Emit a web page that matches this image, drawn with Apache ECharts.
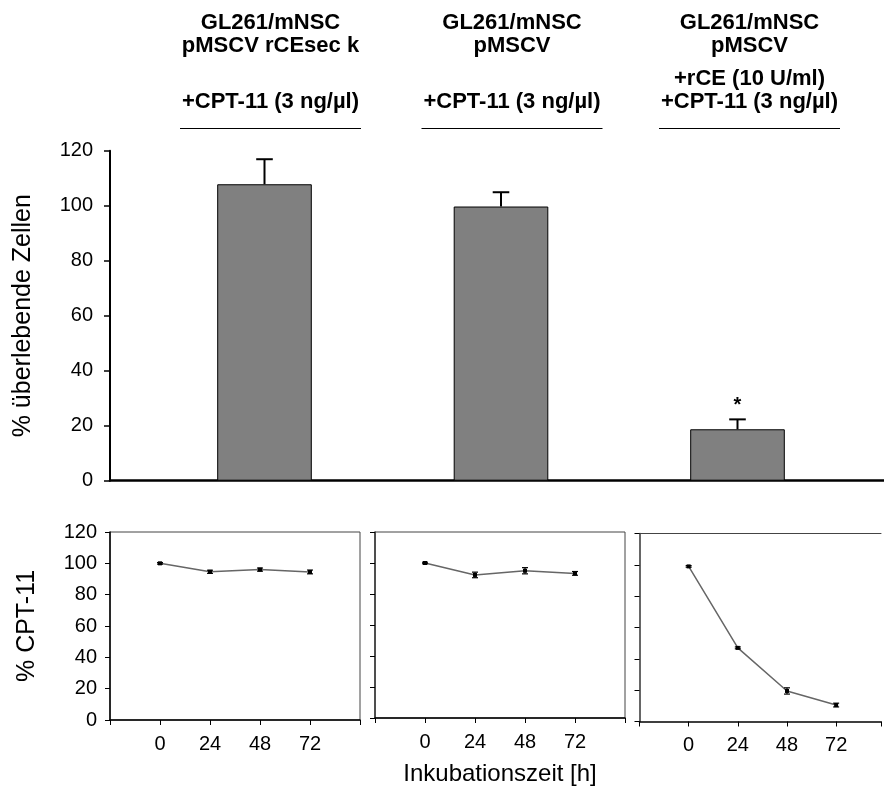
<!DOCTYPE html>
<html>
<head>
<meta charset="utf-8">
<script src="https://cdn.jsdelivr.net/npm/echarts@6/dist/echarts.min.js"></script>
<style>
html,body{margin:0;padding:0;background:#fff;}
#chart{width:884px;height:787px;}
</style>
</head>
<body>
<div id="chart"></div>
<script>
// ---- data ----
const categories = ['GL261/mNSC pMSCV rCEsec k', 'GL261/mNSC pMSCV', 'GL261/mNSC pMSCV +rCE'];
const survival = [107.8, 99.7, 18.7];
const survivalErr = [9.1, 5.2, 3.6];
const significance = ['', '', '*'];
const headerCol1 = ['GL261/mNSC', 'pMSCV rCEsec k', '', '+CPT-11 (3 ng/µl)'];
const headerCol2 = ['GL261/mNSC', 'pMSCV', '', '+CPT-11 (3 ng/µl)'];
const headerCol3 = ['GL261/mNSC', 'pMSCV', '+rCE (10 U/ml)', '+CPT-11 (3 ng/µl)'];
const hours = [0, 24, 48, 72];
const cptPanel1 = [100, 94.6, 96, 94.5];
const cptPanel1Err = [0.5, 1, 1, 1.2];
const cptPanel2 = [100, 92.3, 95, 93.3];
const cptPanel2Err = [0.5, 1.8, 2, 1.2];
const cptPanel3 = [99, 47, 19.5, 10.5];
const cptPanel3Err = [0.5, 0.6, 2, 1.2];
const yTitleTop = '% überlebende Zellen';
const yTitleBottom = '% CPT-11';
const xTitleBottom = 'Inkubationszeit [h]';

const FONT = 'Liberation Sans, Arial, sans-serif';
const chart = echarts.init(document.getElementById('chart'));

// header graphics
const headers = [headerCol1, headerCol2, headerCol3];
const headerCenters = [270.5, 512, 749.5];
const headerRowY = [23, 45.5, 79, 101.5];
const graphics = [];
headers.forEach((lines, c) => {
  lines.forEach((t, r) => {
    if (!t) return;
    graphics.push({
      type: 'text', x: headerCenters[c], y: headerRowY[r],
      style: { text: t, font: 'bold 22px ' + FONT, fill: '#000', textAlign: 'center', textVerticalAlign: 'middle' }
    });
  });
  graphics.push({
    type: 'line', shape: { x1: headerCenters[c] - 90.5, y1: 128.5, x2: headerCenters[c] + 90.5, y2: 128.5 },
    style: { stroke: '#000', lineWidth: 1 }
  });
});

function errBarTop(params, api) {
  const x = api.value(0), y = api.value(1), e = api.value(2);
  const base = api.coord([x, y]);
  const top = api.coord([x, y + e]);
  const children = [
    { type: 'line', shape: { x1: base[0], y1: base[1], x2: top[0], y2: top[1] }, style: { stroke: '#000', lineWidth: 2 } },
    { type: 'line', shape: { x1: top[0] - 8.3, y1: top[1], x2: top[0] + 8.3, y2: top[1] }, style: { stroke: '#000', lineWidth: 2 } }
  ];
  const s = significance[params.dataIndex];
  if (s) {
    children.push({ type: 'text', x: top[0], y: top[1] - 14,
      style: { text: s, font: 'bold 20px ' + FONT, fill: '#000', textAlign: 'center', textVerticalAlign: 'middle' } });
  }
  return { type: 'group', children };
}
function errBarSmall(params, api) {
  const x = api.value(0), y = api.value(1), e = api.value(2);
  const lo = api.coord([x, y - e]);
  const hi = api.coord([x, y + e]);
  return { type: 'group', children: [
    { type: 'line', shape: { x1: lo[0], y1: lo[1], x2: hi[0], y2: hi[1] }, style: { stroke: '#000', lineWidth: 1.2 } },
    { type: 'line', shape: { x1: lo[0] - 3, y1: lo[1], x2: lo[0] + 3, y2: lo[1] }, style: { stroke: '#000', lineWidth: 1.2 } },
    { type: 'line', shape: { x1: hi[0] - 3, y1: hi[1], x2: hi[0] + 3, y2: hi[1] }, style: { stroke: '#000', lineWidth: 1.2 } }
  ]};
}

// panel 3 runs past the right edge of the picture: its axis max is where the edge falls
const panels = [
  { left: 110, top: 532, right: 884 - 360, xMax: 96, border: true, labels: true, vals: cptPanel1, err: cptPanel1Err },
  { left: 375, top: 532, right: 884 - 625, xMax: 96, border: true, labels: false, vals: cptPanel2, err: cptPanel2Err },
  { left: 639.5, top: 533.5, right: 0, xMax: 93.9, border: false, labels: false, vals: cptPanel3, err: cptPanel3Err }
];

const grid = [
  { left: 146.25, right: 884 - 855.75, top: 150.7, height: 330 },
  { left: 110, right: 0, top: 150.7, height: 330 }
];
const xAxis = [
  { gridIndex: 0, type: 'category', data: categories, show: false },
  { gridIndex: 1, type: 'value', min: 0, max: 1, axisLine: { show: true, lineStyle: { color: '#000', width: 2.5 } },
    axisTick: { show: false }, axisLabel: { show: false }, splitLine: { show: false } }
];
const yAxis = [
  { gridIndex: 0, type: 'value', min: 0, max: 120, interval: 20, offset: 36.25,
    axisLine: { show: true, onZero: false, lineStyle: { color: '#000', width: 2 } },
    axisTick: { show: true, inside: false, length: 6, lineStyle: { color: '#000', width: 1.5 } },
    axisLabel: { color: '#000', fontSize: 20, fontFamily: FONT, margin: 17 },
    splitLine: { show: false },
    name: yTitleTop, nameLocation: 'middle', nameGap: 74, nameRotate: 90,
    nameTextStyle: { color: '#000', fontSize: 25, fontFamily: FONT } },
  { gridIndex: 1, type: 'value', min: 0, max: 120, show: false }
];
const series = [
  { type: 'bar', xAxisIndex: 0, yAxisIndex: 0, data: survival, barWidth: '40%',
    itemStyle: { color: '#808080', borderColor: '#000', borderWidth: 1 }, silent: true, animation: false },
  { type: 'custom', xAxisIndex: 0, yAxisIndex: 0, renderItem: errBarTop,
    data: survival.map((v, i) => [i, v, survivalErr[i]]), z: 5, animation: false }
];

panels.forEach((p, k) => {
  const gi = grid.length;
  grid.push({ left: p.left, top: p.top, right: p.right, height: 188, show: p.border, borderColor: '#444', borderWidth: 1, backgroundColor: 'transparent' });
  const xa = { gridIndex: gi, type: 'value', min: -24, max: p.xMax, interval: 24,
    axisLine: { show: true, onZero: false, lineStyle: { color: '#000', width: 1.5 } },
    axisTick: { show: true, length: 5, lineStyle: { color: '#000', width: 1 } },
    axisLabel: { color: '#000', fontSize: 20, fontFamily: FONT, margin: 14,
      formatter: v => (hours.indexOf(v) >= 0 ? String(v) : '') },
    splitLine: { show: false } };
  if (k === 1) {
    Object.assign(xa, { name: xTitleBottom, nameLocation: 'middle', nameGap: 44,
      nameTextStyle: { color: '#000', fontSize: 24, fontFamily: FONT } });
  }
  xAxis.push(xa);
  if (!p.border) {
    // top frame edge of the open-ended panel
    xAxis.push({ gridIndex: gi, type: 'value', min: -24, max: p.xMax, position: 'top',
      axisLine: { show: true, onZero: false, lineStyle: { color: '#444', width: 1 } },
      axisTick: { show: false }, axisLabel: { show: false }, splitLine: { show: false } });
  }
  const ya = { gridIndex: gi, type: 'value', min: 0, max: 120, interval: 20,
    axisLine: { show: true, onZero: false, lineStyle: { color: k === 0 ? '#000' : '#333', width: 1.5 } },
    axisTick: { show: true, length: 5, lineStyle: { color: '#000', width: 1 } },
    axisLabel: { show: p.labels, color: '#000', fontSize: 20, fontFamily: FONT, margin: 13 },
    splitLine: { show: false } };
  if (k === 0) {
    Object.assign(ya, { name: yTitleBottom, nameLocation: 'middle', nameGap: 70, nameRotate: 90,
      nameTextStyle: { color: '#000', fontSize: 25, fontFamily: FONT } });
  }
  yAxis.push(ya);
  const xi = p.border ? xAxis.length - 1 : xAxis.length - 2;
  const yi = yAxis.length - 1;
  series.push({ type: 'line', xAxisIndex: xi, yAxisIndex: yi, data: hours.map((h, i) => [h, p.vals[i]]),
    symbol: 'rect', symbolSize: 4, lineStyle: { color: '#666', width: 1.5 },
    itemStyle: { color: '#000' }, animation: false, silent: true });
  series.push({ type: 'custom', xAxisIndex: xi, yAxisIndex: yi, renderItem: errBarSmall,
    data: hours.map((h, i) => [h, p.vals[i], p.err[i]]), z: 5, animation: false });
});

chart.setOption({
  backgroundColor: '#fff',
  animation: false,
  textStyle: { fontFamily: FONT },
  grid, xAxis, yAxis, series,
  graphic: graphics
});
</script>
</body>
</html>
